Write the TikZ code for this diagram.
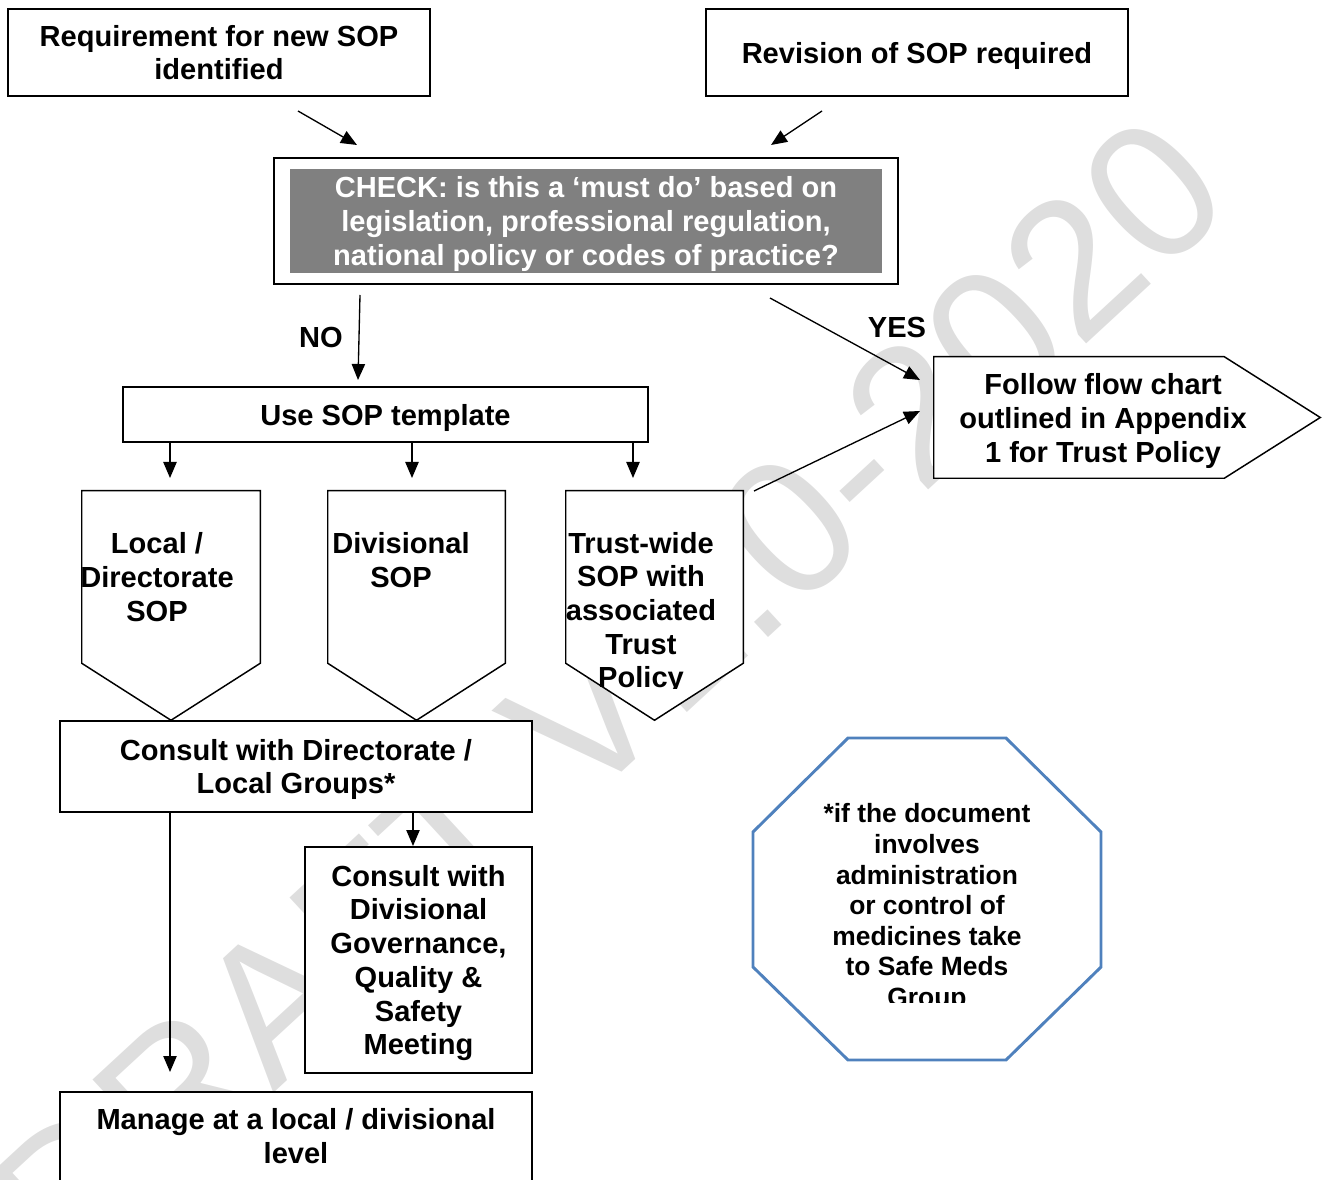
\documentclass[tikz,border=0pt]{standalone}
\usepackage{fontspec}
\setmainfont{Liberation Sans}
\usetikzlibrary{arrows.meta,calc}
\newcommand\px{0.75pt}
\newcommand\mainfnt{\fontsize{21.8}{25.3}\selectfont\bfseries}
\newcommand\octfnt{\fontsize{19.8}{22.9}\selectfont\bfseries}
\definecolor{chk}{HTML}{808080}
\definecolor{octblue}{HTML}{4F81BD}
\begin{document}
\begin{tikzpicture}[x=0.75pt,y=-0.75pt,line join=miter,
  every node/.style={inner sep=0pt,align=center},
  txt/.style={font=\mainfnt,text depth=0pt},
  box/.style={draw,line width=1.1pt,fill=white},
  shp/.style={draw,line width=1.1pt,fill=white},
  region/.style={inner sep=0pt},
  arr/.style={line width=1pt,-{Triangle[length=12pt,width=10pt]}},
  octline/.style={draw=octblue,line width=2.2pt,fill=white}]
\useasboundingbox (0,0) rectangle (1329,1180);
\begin{scope}
\clip (0,0) rectangle (1329,1180);
% watermark
\node[rotate=42.7,text=black!13,font=\fontsize{145}{145}\selectfont] (wm) at (608,695) {DRAFT V1.0-2020};

% top boxes
\node[box,txt,minimum width=422*\px,minimum height=87*\px] (req) at (219,52.5) {Requirement for new SOP\\identified};
\node[box,txt,minimum width=422*\px,minimum height=87*\px] (rev) at (917,52.5) {Revision of SOP required};

% check box
\node[box,minimum width=624*\px,minimum height=126*\px] (check) at (586,221) {};
\node[fill=chk,text=white,txt,minimum width=592*\px,minimum height=104*\px] (checkin) at (586,221) {CHECK: is this a ‘must do’ based on\\legislation, professional regulation,\\national policy or codes of practice?};

% arrows into check
\coordinate (a1s) at (298,111); \coordinate (a1e) at (357,145);
\coordinate (a2s) at (822,111); \coordinate (a2e) at (771,145);
\draw[arr] (a1s) -- (a1e);
\draw[arr] (a2s) -- (a2e);

% labels
\node[txt] (no) at (321,337) {NO};
\node[txt] (yes) at (897,327) {YES};

% template
\node[box,txt,minimum width=525*\px,minimum height=55*\px] (tmpl) at (385.5,414.5) {Use SOP template};
\coordinate (nos) at (360,295); \coordinate (noe) at (358,380);
\draw[arr] (nos) -- (noe);

% follow pentagon
\node[region,minimum width=290*\px,minimum height=121*\px] (fol) at (1079,417.5) {};
\draw[shp] (fol.north west) -- (fol.north east) -- ($(fol.east)+(96,0)$) -- (fol.south east) -- (fol.south west) -- cycle;
\node[txt] (foltxt) at (1103,418) {Follow flow chart\\outlined in Appendix\\1 for Trust Policy};
\coordinate (ys) at (770,298); \coordinate (ye) at (920,380);
\draw[arr] (ys) -- (ye);

% three pentagons
\node[region,minimum width=178*\px,minimum height=172*\px] (loc) at (171,577) {};
\node[region,minimum width=177*\px,minimum height=172*\px] (div) at (416.5,577) {};
\node[region,minimum width=177*\px,minimum height=172*\px] (tru) at (654.5,577) {};
\foreach \n in {loc,div,tru}{
  \draw[shp] (\n.north west) -- (\n.north east) -- (\n.south east) -- ($(\n.south)+(0,57)$) -- (\n.south west) -- cycle;
}
\node[txt] (loctxt) at (157,577) {Local /\\Directorate\\SOP};
\node[txt] (divtxt) at (401,560) {Divisional\\SOP};
\begin{scope}
\clip (540,480) rectangle (760,688);
\node[txt] (trutxt) at (641,610) {Trust-wide\\SOP with\\associated\\Trust\\Policy};
\end{scope}

\coordinate (d1) at (170,478); \coordinate (d2) at (412,478); \coordinate (d3) at (633,478);
\draw[arr] (tmpl.south -| d1) -- (d1);
\draw[arr] (tmpl.south -| d2) -- (d2);
\draw[arr] (tmpl.south -| d3) -- (d3);

\coordinate (ts) at (754,491); \coordinate (te) at (920,411);
\draw[arr] (ts) -- (te);

% consult boxes
\node[box,txt,minimum width=472*\px,minimum height=91*\px] (consA) at (296,766.5) {Consult with Directorate /\\Local Groups*};
\node[box,txt,minimum width=227*\px,minimum height=226*\px] (consB) at (418.5,960) {Consult with\\Divisional\\Governance,\\Quality \&\\Safety\\Meeting};
\node[box,minimum width=472*\px,minimum height=116*\px] (man) at (296,1150) {};
\node[txt] (mantxt) at (296,1136) {Manage at a local / divisional\\level};

\coordinate (m1) at (170,1072); \coordinate (c1) at (413,846);
\draw[arr] (consA.south -| m1) -- (m1);
\draw[arr] (consA.south -| c1) -- (c1);

% octagon
\coordinate (octc) at (927,899);
\draw[octline] ($(octc)+(-79,-161)$) -- ++(158,0) -- ++(95,94) -- ++(0,135) -- ++(-95,93) -- ++(-158,0) -- ++(-95,-93) -- ++(0,-135) -- cycle;
\begin{scope}
\clip (760,760) rectangle (1095,1002);
\node[font=\octfnt,text depth=0pt] (octtxt) at (927,905) {*if the document\\involves\\administration\\or control of\\medicines take\\to Safe Meds\\Group};
\end{scope}
\end{scope}
\end{tikzpicture}
\end{document}
